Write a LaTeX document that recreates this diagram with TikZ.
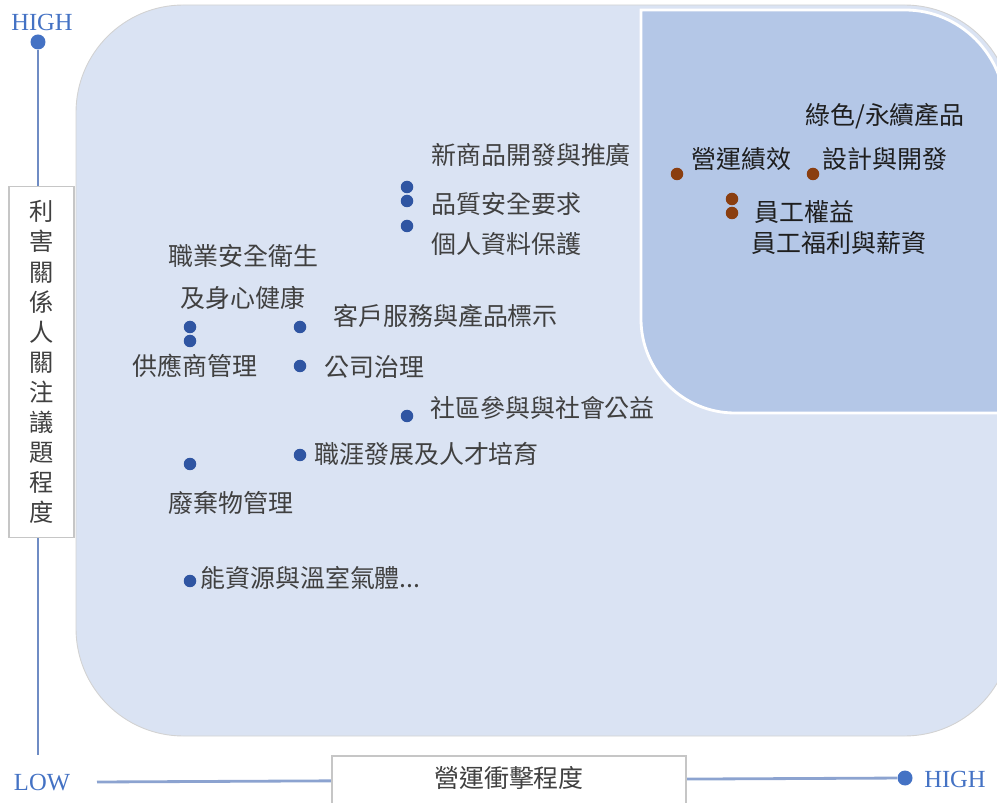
\documentclass[tikz,border=0pt]{standalone}
\usepackage{fontspec}
\newfontfamily\cjk{Noto Sans CJK TC}
\newfontfamily\axisfont{Liberation Serif}
\definecolor{lightbg}{HTML}{DAE3F3}
\definecolor{darkbg}{HTML}{B4C7E7}
\definecolor{axisblue}{HTML}{4472C4}
\definecolor{lineblue}{HTML}{6F8CC4}
\definecolor{dotblue}{HTML}{2F55A2}
\definecolor{dotbrown}{HTML}{8A3E10}
\definecolor{labgray}{HTML}{404040}
\definecolor{labdark}{HTML}{1E1E1E}
\tikzset{
  lbl/.style={anchor=west,inner sep=0pt,font=\fontsize{14.2}{16}\cjk,text=labgray},
  lbldark/.style={lbl,text=labdark},
  bdot/.style={circle,fill=dotblue,minimum size=2.5mm,inner sep=0pt},
  rdot/.style={circle,fill=dotbrown,minimum size=2.5mm,inner sep=0pt},
  axislbl/.style={inner sep=0pt,font=\fontsize{14}{16}\axisfont,text=axisblue},
  endball/.style={circle,fill=axisblue,minimum size=3mm,inner sep=0pt},
  axbox/.style={draw=gray!45,fill=white,line width=0.6pt}
}
\begin{document}
\begin{tikzpicture}[x=0.02cm,y=-0.02cm]
\useasboundingbox (0,0) rectangle (997,803);
\begin{scope}
\clip (0,0) rectangle (997,803);
% background regions
\fill[lightbg,draw=gray!35,line width=0.5pt,rounded corners=2.15cm] (76,5) rectangle (1012,736);
\draw[fill=darkbg,draw=white,line width=1.6pt] (641,10) -- (905,10) .. controls (960,10) and (1005,55) .. (1005,110) -- (1005,413) -- (735,413) .. controls (683,413) and (641,371) .. (641,319) -- cycle;
% axes
\node[endball] (vtop) at (38,42) {};
\coordinate (vbot) at (38,755);
\draw[lineblue,line width=1.2pt] (vtop) -- (vbot);
\node[endball] (hright) at (905,778) {};
\coordinate (hleft) at (97,782);
\draw[lineblue!80,line width=1.6pt] (hleft) -- (hright);
\node[axbox,minimum width=13mm,minimum height=70.4mm,inner sep=0pt] (vbox) at (41.5,362) {};
\node[inner sep=0pt,align=center,font=\fontsize{13.8}{17.1}\cjk,text=labgray] (vtext) at (41.5,362) {利\\害\\關\\係\\人\\關\\注\\議\\題\\程\\度};
\draw[axbox] (332,756) rectangle (686,815);
\node[inner sep=0pt,font=\fontsize{14.2}{16}\cjk,text=labgray] (htext) at (509,778) {營運衝擊程度};
\node[axislbl] (hi1) at (42,22) {HIGH};
\node[axislbl] (lo) at (42,783) {LOW};
\node[axislbl] (hi2) at (955,779) {HIGH};
\end{scope}
% blue dots
\node[bdot] (d1) at (407,187) {};
\node[bdot] (d2) at (407,201) {};
\node[bdot] (d3) at (407,226) {};
\node[bdot] (d4) at (190,327) {};
\node[bdot] (d5) at (190,341) {};
\node[bdot] (d6) at (300,327) {};
\node[bdot] (d7) at (300,366) {};
\node[bdot] (d8) at (407,416) {};
\node[bdot] (d9) at (300,455) {};
\node[bdot] (d10) at (190,464) {};
\node[bdot] (d11) at (190,581) {};
% brown dots
\node[rdot] (r1) at (677,174) {};
\node[rdot] (r2) at (813,174) {};
\node[rdot] (r3) at (732,199) {};
\node[rdot] (r4) at (732,213) {};
% labels
\node[lbl] (t1) at (431,155) {新商品開發與推廣};
\node[lbl] (t2) at (431,204) {品質安全要求};
\node[lbl] (t3) at (431,244) {個人資料保護};
\node[lbl] (t4) at (168,256) {職業安全衛生};
\node[lbl] (t5) at (180,298) {及身心健康};
\node[lbl] (t6) at (333,316) {客戶服務與產品標示};
\node[lbl] (t7) at (132,366) {供應商管理};
\node[lbl] (t8) at (324,367) {公司治理};
\node[lbl] (t9) at (430,408) {社區參與與社會公益};
\node[lbl] (t10) at (314,454) {職涯發展及人才培育};
\node[lbl] (t11) at (168,503) {廢棄物管理};
\node[lbl] (t12) at (200,578) {能資源與溫室氣體...};
\node[lbldark] (t13) at (805,116) {綠色/永續產品};
\node[lbldark] (t14) at (822,159) {設計與開發};
\node[lbldark] (t15) at (691,159) {營運績效};
\node[lbldark] (t16) at (754,212) {員工權益};
\node[lbldark] (t17) at (751,243) {員工福利與薪資};
\end{tikzpicture}
\end{document}
